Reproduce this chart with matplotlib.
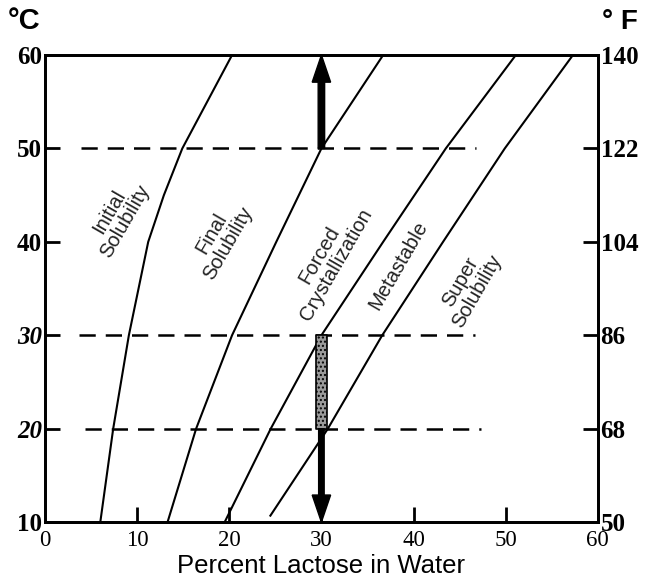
import matplotlib
matplotlib.use('Agg')
from matplotlib import pyplot as plt

# temperature (deg C) and percent lactose
initial_t = [10, 20, 30, 40, 45, 50, 60]
initial_x = [6.0, 7.4, 9.1, 11.2, 12.9, 14.9, 20.3]

final_t = [10, 20, 30, 40, 50, 60]
final_x = [13.3, 16.4, 20.3, 25.1, 30.0, 36.7]

forced_t = [10, 20, 30, 40, 50, 60]
forced_x = [19.5, 24.5, 30.0, 36.7, 43.5, 51.1]

super_t = [10.6, 20, 30, 40, 50, 60]
super_x = [24.4, 30.7, 36.6, 43.2, 49.9, 57.3]

dash_levels = [50, 30, 20]
dash_from = [3.9, 3.7, 4.3]
dash_to = [46.8, 46.7, 47.3]

labels = ['Initial\nSolubility', 'Final\nSolubility', 'Forced\nCrystallization',
          'Metastable', 'Super\nSolubility']
label_x = [7.8, 19.0, 30.7, 38.4, 46.0]
label_t = [42.7, 40.4, 38.1, 37.5, 35.2]

x_ticks = [0, 10, 20, 30, 40, 50, 60]
c_ticks = [10, 20, 30, 40, 50, 60]
f_ticks = [50, 68, 86, 104, 122, 140]

serif = 'Liberation Serif'
sans = 'Liberation Sans'

fig = plt.figure(figsize=(6.45, 5.86), dpi=100)
ax = fig.add_axes([0.0698, 0.109, 0.857, 0.797])

for xs, ts in [(initial_x, initial_t), (final_x, final_t),
               (forced_x, forced_t), (super_x, super_t)]:
    ax.plot(xs, ts, color='black', lw=1.5, solid_capstyle='butt')

for lvl, a, b in zip(dash_levels, dash_from, dash_to):
    ax.plot([a, b], [lvl, lvl], color='black', lw=1.8, dashes=(6.5, 4))

for txt, lx, lt in zip(labels, label_x, label_t):
    ax.text(lx, lt, txt, rotation=60, ha='center', va='center',
            family=sans, fontsize=14.5, color='#222222', linespacing=1.0)

# speckled bar between 20 and 30 C
ax.fill_between([29.45, 30.6], 20, 30, facecolor='#9a9a9a', edgecolor='black',
                hatch='....', lw=1.2, zorder=3)

ax.arrow(30, 50, 0, 10, width=0.7, head_width=2.0, head_length=2.9,
         length_includes_head=True, color='black', zorder=4)
ax.arrow(30, 20, 0, -10, width=0.6, head_width=2.0, head_length=2.9,
         length_includes_head=True, color='black', zorder=4)

ax.set_xlim(0, 60)
ax.set_ylim(10, 60)
ax.set_xticks(x_ticks)
ax.set_yticks(c_ticks)
ax.set_xticklabels([str(v) for v in x_ticks], family=serif, fontsize=16.5)
ax.set_yticklabels([str(v) for v in c_ticks], family=serif, fontsize=18,
                   fontweight='bold')
for lab in ax.get_yticklabels():
    if lab.get_text() in ('20', '30'):
        lab.set_fontstyle('italic')
ax.tick_params(axis='both', direction='in', length=11, width=2)
ax.tick_params(axis='x', pad=6)
ax.tick_params(axis='y', pad=2)
for t in ax.xaxis.get_major_ticks():
    if t.get_loc() in (0, 60):
        t.tick1line.set_visible(False)
for t in ax.yaxis.get_major_ticks():
    if t.get_loc() in (10, 60):
        t.tick1line.set_visible(False)
for s in ax.spines.values():
    s.set_linewidth(2)

ax.set_xlabel('Percent Lactose in Water', family=sans, fontsize=18.5,
              labelpad=2)

ax2 = ax.twinx()
ax2.set_ylim(50, 140)
ax2.set_yticks(f_ticks)
ax2.set_yticklabels([str(v) for v in f_ticks], family=serif, fontsize=18,
                    fontweight='bold')
ax2.tick_params(axis='y', direction='in', length=11, width=2, pad=2)
for t in ax2.yaxis.get_major_ticks():
    if t.get_loc() in (50, 140):
        t.tick2line.set_visible(False)
for s in ax2.spines.values():
    s.set_linewidth(2)

fig.text(0.012, 0.965, '°C', family=sans, fontsize=21, fontweight='bold',
         va='center', ha='left')
fig.text(0.933, 0.962, '° F', family=sans, fontsize=20, fontweight='bold',
         va='center', ha='left')

fig.savefig('out.png', dpi=100)
